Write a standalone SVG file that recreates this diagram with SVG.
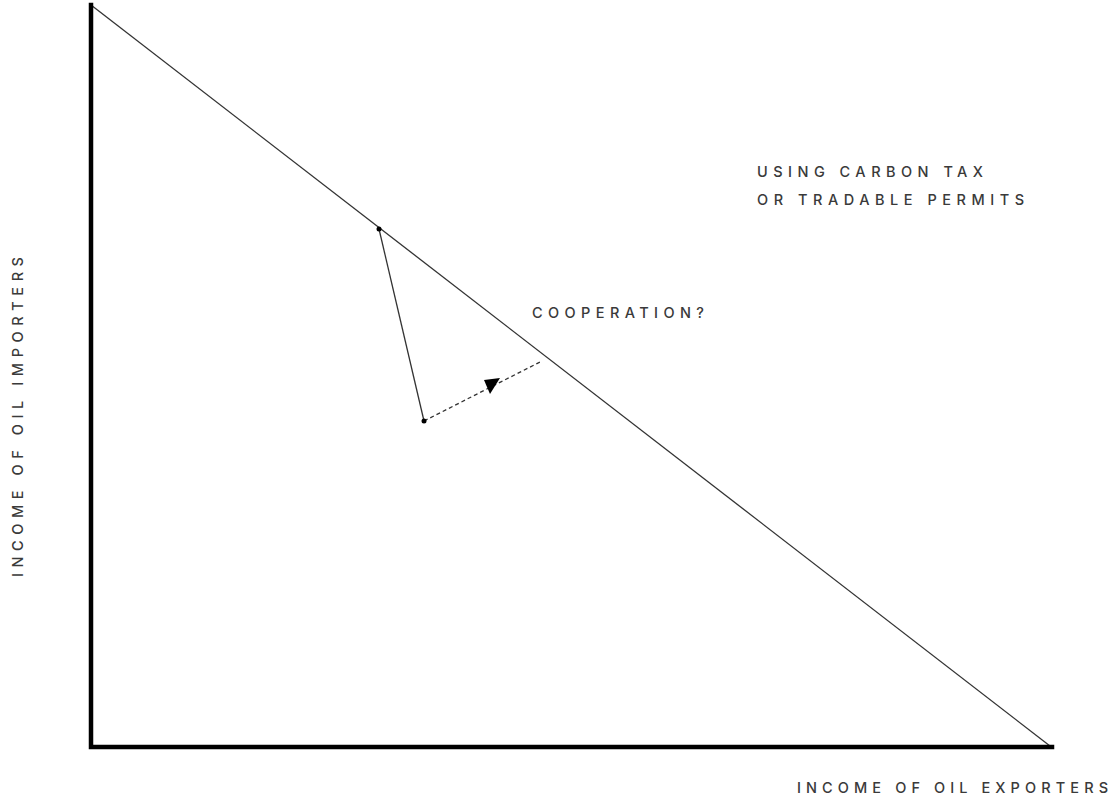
<svg xmlns="http://www.w3.org/2000/svg" width="1115" height="800" viewBox="0 0 1115 800">
  <style>
    .lbl { font-family: Inter, "DejaVu Sans", sans-serif; font-size: 14.5px; font-weight: 500; fill: #3a3a3a; letter-spacing: 2px; }
    .axis { stroke: #000; stroke-width: 4.5; fill: none; stroke-linecap: square; }
    .thin { stroke: #333; stroke-width: 1.3; fill: none; }
  </style>
  <rect width="1115" height="800" fill="#fff"/>
  <g id="connectors">
    <line class="thin" x1="91" y1="5" x2="1050" y2="746"/>
    <line class="thin" x1="379" y1="229" x2="424" y2="421"/>
    <line class="thin" x1="424" y1="421" x2="540" y2="362" stroke-dasharray="4,3"/>
    <polygon points="484,380 500,378 490,394" fill="#000"/>
  </g>
  <g id="axes">
    <polyline class="axis" points="91,5 91,747 1052,747"/>
  </g>
  <g id="points">
    <circle cx="379" cy="229" r="2.5" fill="#000"/>
    <circle cx="424" cy="421" r="2.5" fill="#000"/>
  </g>
  <g id="labels">
    <text class="lbl" x="757" y="177" textLength="228" lengthAdjust="spacing">USING CARBON TAX</text>
    <text class="lbl" x="757" y="205" textLength="269" lengthAdjust="spacing">OR TRADABLE PERMITS</text>
    <text class="lbl" x="532" y="318" textLength="174" lengthAdjust="spacing">COOPERATION?</text>
    <text class="lbl" x="797" y="793" textLength="313" lengthAdjust="spacing">INCOME OF OIL EXPORTERS</text>
    <text class="lbl" transform="translate(23,577) rotate(-90)" x="0" y="0" textLength="322" lengthAdjust="spacing">INCOME OF OIL IMPORTERS</text>
  </g>
</svg>
